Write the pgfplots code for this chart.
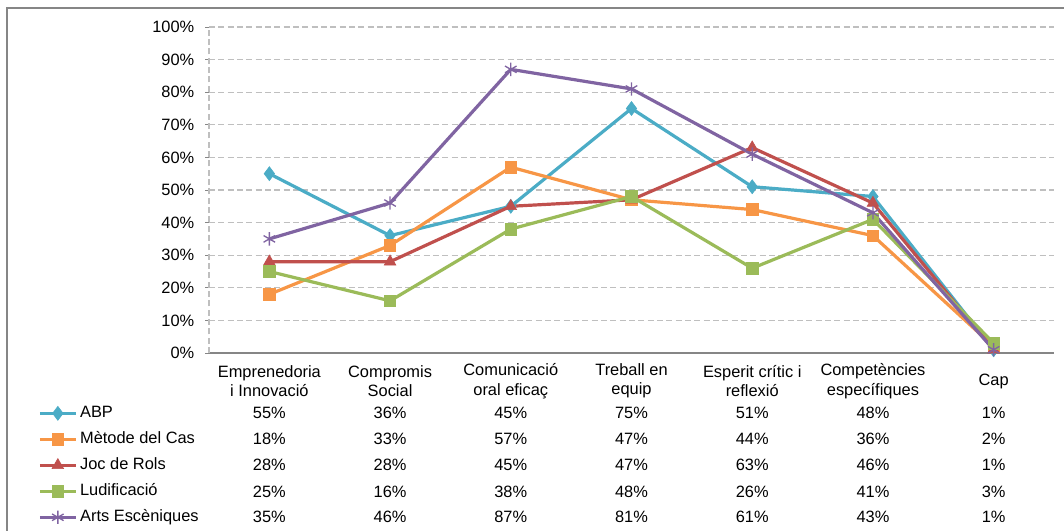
\documentclass[border=0pt]{standalone}
\usepackage{pgfplots}
\pgfplotsset{compat=1.18}
\usepackage{fontspec}
\setmainfont{Liberation Sans}
\definecolor{cABP}{HTML}{4BACC6}
\definecolor{cMet}{HTML}{F79646}
\definecolor{cJoc}{HTML}{C0504D}
\definecolor{cLud}{HTML}{9BBB59}
\definecolor{cArt}{HTML}{8064A2}
\definecolor{cGrid}{HTML}{BFBFBF}
\definecolor{cAxis}{HTML}{868686}
\newcommand\tabrow[8]{%
  \node[font=\tabfont] at (axis cs:0,#1) {#2\%};
  \node[font=\tabfont] at (axis cs:1,#1) {#3\%};
  \node[font=\tabfont] at (axis cs:2,#1) {#4\%};
  \node[font=\tabfont] at (axis cs:3,#1) {#5\%};
  \node[font=\tabfont] at (axis cs:4,#1) {#6\%};
  \node[font=\tabfont] at (axis cs:5,#1) {#7\%};
  \node[font=\tabfont] at (axis cs:6,#1) {#8\%};}
\newcommand\tabfont{\fontsize{12.3}{14.6}\selectfont}
\begin{document}
\begin{tikzpicture}
\useasboundingbox (0,0) rectangle (798pt,398.25pt);
\draw[color=cAxis, line width=0.8pt] (5.25pt,-10pt) rectangle (810pt,392.25pt);
\begin{axis}[
  at={(156.75pt,133.5pt)}, anchor=south west,
  scale only axis, width=633.75pt, height=244.5pt,
  xmin=-0.5, xmax=6.5, ymin=0, ymax=100,
  clip=false,
  axis lines*=left,
  x axis line style={color=cAxis, line width=0.8pt},
  y axis line style={color=cGrid, line width=0.8pt, dash pattern=on 4.5pt off 2.5pt},
  xtick={0,...,6},
  xticklabels={{Emprenedoria\\i Innovació},{Compromis\\Social},{Comunicació\\oral eficaç},{Treball en\\equip},{Esperit crític i\\reflexió},{Competències\\específiques},{Cap}},
  xticklabel style={align=center, anchor=center, yshift=-18pt, font=\tabfont},
  xtick style={draw=none},
  ytick={0,10,...,100},
  yticklabel={\pgfmathprintnumber{\tick}\%},
  yticklabel style={font=\tabfont, xshift=-4.5pt},
  /pgf/number format/assume math mode=true,
  ytick style={draw=cAxis, line width=0.6pt},
  tick align=outside, major tick length=3pt,
  ymajorgrids,
  major grid style={color=cGrid, line width=0.8pt, dash pattern=on 4.5pt off 2.5pt},
  every axis plot/.append style={line width=2.4pt},
  legend cell align=left,
  legend image code/.code={\draw[mark repeat=2,mark phase=2,#1] plot coordinates {(0pt,0pt) (13.5pt,0pt) (27pt,0pt)};},
  legend style={at={(-0.2024,-0.1617)}, anchor=north west, draw=none, fill=none,
    inner sep=0pt, row sep=8.5pt, column sep=2pt, font=\tabfont,
    nodes={inner sep=0pt, text height=8.5pt, text depth=2.5pt}},
]
\addplot[color=cABP, mark=diamond*, mark size=5.2pt, mark options={solid, fill=cABP, line width=0.5pt}]
  coordinates {(0,55) (1,36) (2,45) (3,75) (4,51) (5,48) (6,1)};
\addlegendentry{ABP}
\addplot[color=cMet, mark=square*, mark size=4.3pt, mark options={solid, fill=cMet, line width=0.5pt}]
  coordinates {(0,18) (1,33) (2,57) (3,47) (4,44) (5,36) (6,2)};
\addlegendentry{Mètode del Cas}
\addplot[color=cJoc, mark=triangle*, mark size=5pt, mark options={solid, fill=cJoc, line width=0.5pt}]
  coordinates {(0,28) (1,28) (2,45) (3,47) (4,63) (5,46) (6,1)};
\addlegendentry{Joc de Rols}
\addplot[color=cLud, mark=square*, mark size=4.3pt, mark options={solid, fill=cLud, line width=0.5pt}]
  coordinates {(0,25) (1,16) (2,38) (3,48) (4,26) (5,41) (6,3)};
\addlegendentry{Ludificació}
\addplot[color=cArt, mark=asterisk, mark size=5pt, mark options={solid, line width=1pt}]
  coordinates {(0,35) (1,46) (2,87) (3,81) (4,61) (5,43) (6,1)};
\addlegendentry{Arts Escèniques}
\tabrow{-18.4}{55}{36}{45}{75}{51}{48}{1}
\tabrow{-26.4}{18}{33}{57}{47}{44}{36}{2}
\tabrow{-34.4}{28}{28}{45}{47}{63}{46}{1}
\tabrow{-42.5}{25}{16}{38}{48}{26}{41}{3}
\tabrow{-50.3}{35}{46}{87}{81}{61}{43}{1}
\end{axis}
\end{tikzpicture}
\end{document}
